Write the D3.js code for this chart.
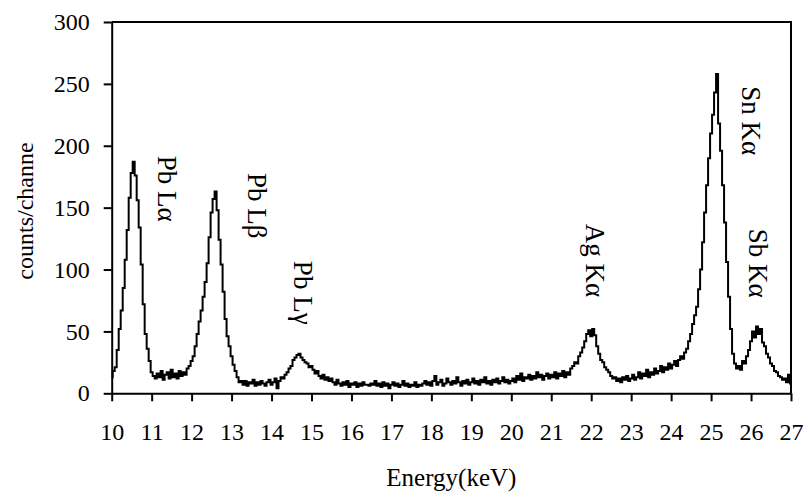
<!DOCTYPE html>
<html><head><meta charset="utf-8">
<script src="https://cdn.jsdelivr.net/npm/d3@7/dist/d3.min.js"></script>
<style>
body{margin:0;background:#fff}
text{font-family:"Liberation Serif","Times New Roman",serif;fill:#000}
</style>
</head><body>
<svg id="chart" width="804" height="494"></svg>
<script>
// channel calibration of the spectrum
const startEnergy = 10;
const channelWidth = 0.05;
// counts per channel (10.00 ... 27.00 keV)
const counts = [
  13,18,21,35,52,67,85,108,132,158,178,187,176,156,134,104,72,48,36,26,17,14,
  12,16,13,18,11,15,17,12,19,13,16,12,18,14,17,15,20,22,
  26,30,38,48,58,67,78,90,105,126,146,157,163,148,124,104,82,60,46,38,30,23,18,13,9,10,
  7,10,6,9,8,11,6,9,7,10,8,6,9,11,7,9,12,4,10,13,12,
  15,17,20,22,27,29,31,32,29,27,25,24,21,22,19,16,18,14,12,15,11,13,10,12,
  9,7,11,8,6,9,7,10,5,8, 7,9,5,8,6,9,7,7,6,8, 7,10,6,8,5,9,6,8,4,7, 9,6,8,5,7,10,6,8,5,7, 6,9,5,7,6,8,10,7,
  9,6,10,14,7,9,11,6,8,12, 9,7,10,8,13,9,6,10,8,11, 7,9,12,8,10,7,11,9,13,8, 10,7,11,9,12,8,10,13,9,11, 8,10,
  12,9,14,11,16,10,13,12,15,11, 14,12,17,13,15,11,14,16,12,15, 13,17,12,16,14,18,13,17,15,20,
  22,25,24,30,33,37,42,48,51,46, 52,47,38,32,27,25,21,19,17,14, 12,13,
  10,12,9,13,11,14,10,12,15,11, 13,17,12,16,14,19,13,17,15,20, 16,18,22,17,21,19,24,20,23,26, 22,27,30,28,
  33,36,42,48,56,63,70,84,100,122, 146,168,190,210,225,243,258,218,196,168, 138,106,78,52,32,24,
  20,22,19,26,24,30,35,42,50,45, 54,48,52,41,38,32,29,24,22,18, 17,14,13,11,12,9,15,8
];
const xTicks = [10,11,12,13,14,15,16,17,18,19,20,21,22,23,24,25,26,27];
const yTicks = [0,50,100,150,200,250,300];
const peakNames = ["Pb L\u03b1","Pb L\u03b2","Pb L\u03b3","Ag K\u03b1","Sn K\u03b1","Sb K\u03b1"];
const peakLabelEnergy = [11.16,13.42,14.55,21.87,25.77,25.95];
const peakLabelCount = [192,178,107,137,248,133];
const xTitle = "Energy(keV)";
const yTitle = "counts/channe";

const svg = d3.select("#chart");
const L = 111.7, R = 791, T = 22, B = 393.3;
const x = d3.scaleLinear().domain([10,27]).range([L,R]);
const y = d3.scaleLinear().domain([0,300]).range([B,T]);

const data = counts.map((c,i)=>({e:startEnergy + i*channelWidth, c}));

// frame (top & right)
svg.append("path")
  .attr("d",`M${L},${T}H${R}V${B}`)
  .attr("fill","none").attr("stroke","#000").attr("stroke-width",2);

const gx = svg.append("g").attr("transform",`translate(0,${B})`)
  .call(d3.axisBottom(x).tickValues(xTicks).tickFormat(d3.format("d")).tickSize(8).tickSizeOuter(0).tickPadding(22));
const gy = svg.append("g").attr("transform",`translate(${L},0)`)
  .call(d3.axisLeft(y).tickValues(yTicks).tickSize(8).tickSizeOuter(0).tickPadding(14));
[gx,gy].forEach(g=>{
  g.selectAll("path,line").attr("stroke","#000").attr("stroke-width",2);
  g.selectAll("text").attr("font-size",24).attr("font-family",null).style("fill","#000");
});

// spectrum
svg.append("path").datum(data)
  .attr("fill","none").attr("stroke","#000").attr("stroke-width",2)
  .attr("d", d3.line().x(d=>x(d.e)).y(d=>y(d.c)).curve(d3.curveStep));

// titles
svg.append("text").attr("x",(L+R)/2).attr("y",486).attr("text-anchor","middle")
  .attr("font-size",25).text(xTitle);
svg.append("text").attr("transform",`translate(33,211) rotate(-90)`).attr("text-anchor","middle")
  .attr("font-size",24).text(yTitle);

// peak labels
svg.append("g").selectAll("text").data(peakNames).join("text")
  .attr("transform",(d,i)=>`translate(${x(peakLabelEnergy[i])},${y(peakLabelCount[i])}) rotate(90)`)
  .attr("font-size",27).text(d=>d);
</script>
</body></html>
